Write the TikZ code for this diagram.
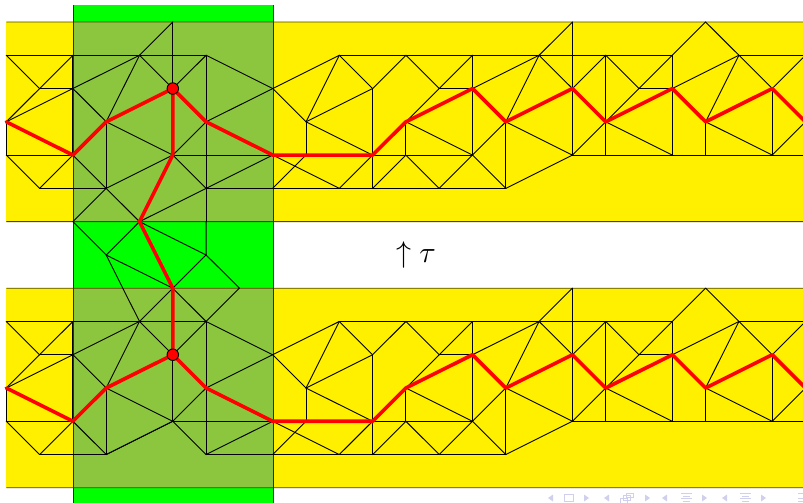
\documentclass[tikz,border=0pt]{standalone}
\definecolor{bandyellow}{RGB}{255,240,0}
\definecolor{boxgreen}{RGB}{0,255,0}
\definecolor{overlapgreen}{RGB}{140,198,63}
\definecolor{navblue}{RGB}{208,208,238}
\tikzset{
  meshline/.style={draw=black,line width=0.9pt,line cap=round},
  redpath/.style={draw=red,line width=3.6pt,line join=round,line cap=round},
  bandedge/.style={draw=black!70!bandyellow,line width=0.8pt},
  boxedge/.style={draw=black!70!boxgreen,line width=0.9pt},
  navtri/.style={fill=navblue,draw=none},
  navbox/.style={draw=navblue,line width=0.9pt,fill=none},
}
\begin{document}
\begin{tikzpicture}[x=1pt,y=-1pt]
\useasboundingbox (0,0) rectangle (803,503);
% grid of mesh vertices: t = upper mesh, b = lower mesh
\foreach \c in {0,...,24}{
  \foreach \r in {0,...,6}{
    \pgfmathsetmacro{\px}{6.3+33.3*\c}
    \pgfmathsetmacro{\py}{22+33.27*\r}
    \pgfmathsetmacro{\qy}{288.2+33.27*\r}
    \coordinate (t\c-\r) at (\px,\py);
    \coordinate (b\c-\r) at (\px,\qy);
  }
}
\coordinate (m3) at (106.2,255);
\coordinate (m6) at (206.1,255);
\begin{scope}
\clip (0,0) rectangle (803,503);
% fills
\fill[boxgreen] (73,5) rectangle (273.2,503);
\fill[bandyellow] (t0-0) rectangle (803,221.6);
\fill[bandyellow] (b0-0) rectangle (803,487.8);
\fill[overlapgreen] (t2-0) rectangle (t8-6);
\fill[overlapgreen] (b2-0) rectangle (b8-6);
\draw[bandedge] (t0-0) -- (803,22) (t0-6) -- (803,221.6);
\draw[bandedge] (b0-0) -- (803,288.2) (b0-6) -- (803,487.8);
\draw[boxedge] (73,5) -- (73,503) (273.2,5) -- (273.2,503);
% edges present in both meshes
\foreach \m in {t,b}{
  \foreach \a/\z in {
    0-1/6-1,6-1/8-2,0-1/1-2,2-1/1-2,1-2/2-2,1-2/0-3,2-2/0-3,2-1/2-4,
    0-3/0-4,0-4/2-4,0-4/1-5,1-5/2-4,1-5/3-5,
    2-2/3-3,2-2/4-1,3-3/4-1,4-1/5-2,5-2/6-1,6-1/6-5,
    3-3/3-5,3-3/5-4,6-3/5-4,6-3/8-2,5-4/8-4,5-4/6-5,6-5/8-4,6-5/8-5,
    2-4/3-5,3-5/5-4,
    8-2/10-1,10-1/20-1,8-2/9-3,9-3/10-1,10-1/11-2,9-3/11-2,9-3/9-4,9-3/11-4,
    11-2/11-5,11-2/12-1,12-1/13-2,13-2/12-3,13-2/14-2,13-2/14-1,14-1/14-4,
    11-4/14-4,12-3/12-4,12-3/14-4,14-4/15-3,15-3/15-5,14-2/16-1,15-3/16-1,
    15-3/17-4,14-4/15-5,14-4/13-5,13-5/12-4,12-4/11-5,11-4/10-5,8-4/10-5,
    9-4/8-5,8-5/15-5,15-5/17-4,
    16-1/17-0,17-0/17-4,16-1/17-2,17-2/18-1,18-1/18-4,18-1/19-2,19-2/20-1,
    19-2/20-2,19-2/18-3,17-4/18-3,18-3/20-4,17-4/24-4,20-1/20-4,20-1/21-0,
    21-0/22-1,20-2/22-1,21-3/22-1,21-3/21-4,21-3/23-4,22-1/23-2,22-1/24-1,
    23-2/24-1,23-2/23-4,23-4/24-3}{
    \draw[meshline] (\m\a) -- (\m\z);
  }
}
% edges of the upper mesh only
\foreach \a/\z in {4-1/5-0,5-0/5-2,3-5/2-6,3-5/4-6,4-6/6-5,6-5/6-6}{
  \draw[meshline] (t\a) -- (t\z);
}
% edges of the lower mesh only
\foreach \a/\z in {5-2/5-4,3-5/5-4}{
  \draw[meshline] (b\a) -- (b\z);
}
% edges between the meshes
\draw[meshline] (t2-6) -- (m3);
\draw[meshline] (t4-6) -- (m3);
\draw[meshline] (m3) -- (b5-0);
\draw[meshline] (t4-6) -- (m6);
\draw[meshline] (t6-6) -- (m6);
\draw[meshline] (m6) -- (b5-0);
\draw[meshline] (m6) -- (b7-0);
\draw[meshline] (m3) -- (b4-1);
\draw[meshline] (b5-0) -- (b4-1);
\draw[meshline] (b5-0) -- (b6-1);
\draw[meshline] (b6-1) -- (b7-0);
% red paths
\foreach \m in {t,b}{
  \draw[redpath] (\m0-3) -- (\m2-4) -- (\m3-3) -- (\m5-2) -- (\m6-3) -- (\m8-4) -- (\m11-4)
    -- (\m12-3) -- (\m14-2) -- (\m15-3) -- (\m17-2) -- (\m18-3) -- (\m20-2) -- (\m21-3)
    -- (\m23-2) -- (\m24-3);
}
\draw[redpath] (t5-2) -- (t5-4) -- (t4-6) -- (b5-0) -- (b5-2);
\end{scope}
% marked vertices
\node[circle,fill=red,draw=black,line width=0.9pt,minimum size=11.5pt,inner sep=0pt] (topdot) at (t5-2) {};
\node[circle,fill=red,draw=black,line width=0.9pt,minimum size=11.5pt,inner sep=0pt] (botdot) at (b5-2) {};
% label
\node[scale=3,inner sep=0pt] (lab) at (416,254.5) {$\uparrow\tau$};
% navigation symbols
\foreach \x in {553,609,667,727}{
  \fill[navtri] (\x-5,498) -- (\x,494.5) -- (\x,501.5) -- cycle;
}
\foreach \x in {584,645,702,761}{
  \fill[navtri] (\x,494.5) -- (\x+5,498) -- (\x,501.5) -- cycle;
}
\draw[navbox] (564,494.5) rectangle (573,501);
\draw[navbox] (620,498) rectangle (627,503);
\draw[navbox] (623,495.5) rectangle (630,500);
\draw[navbox] (626,493) rectangle (633,497);
\foreach \x in {681,740}{
  \draw[navbox] (\x,493.5) -- (\x+11,493.5) (\x+2,496) -- (\x+9,496) (\x,498.5) -- (\x+11,498.5) (\x+2,501) -- (\x+9,501);
}
\draw[navbox] (798,493.5) -- (803,493.5) (798,498.5) -- (803,498.5) (798,501) -- (803,501);
\end{tikzpicture}
\end{document}
